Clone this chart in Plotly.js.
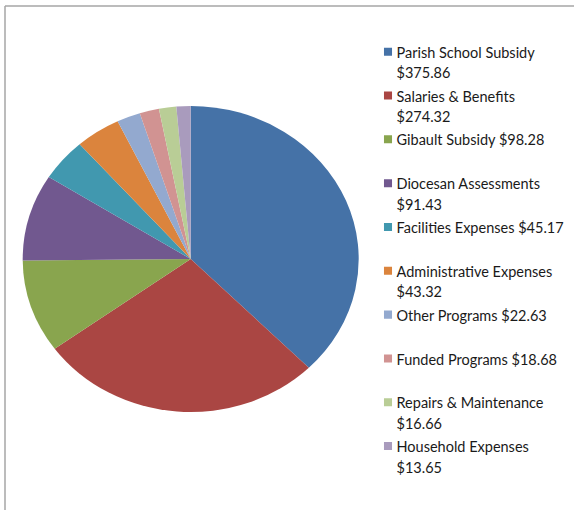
<!DOCTYPE html>
<html>
<head>
<meta charset="utf-8">
<script src="https://cdn.plot.ly/plotly-3.0.1.min.js"></script>
<style>
  html, body { margin: 0; padding: 0; background: #fff; }
  #chart { width: 574px; height: 510px; }
  /* Source chart is drawn as a slightly wide ellipse */
  #chart .pielayer { transform-box: view-box; transform-origin: 190.7px 259px; transform: scaleX(1.098); }
  #chart .legendpie { transform-box: fill-box; transform-origin: center; transform: translate(31.5px, 0) scale(0.67); }
</style>
</head>
<body>
<div id="chart"></div>
<script>
// ---- data ----
const categories = [
  'Parish School Subsidy', 'Salaries & Benefits', 'Gibault Subsidy',
  'Diocesan Assessments', 'Facilities Expenses', 'Administrative Expenses',
  'Other Programs', 'Funded Programs', 'Repairs & Maintenance', 'Household Expenses'
];
const amounts = [375.86, 274.32, 98.28, 91.43, 45.17, 43.32, 22.63, 18.68, 16.66, 13.65];
const wrapped = [true, true, false, true, false, true, false, false, true, true];
const colors = ['#4572A7', '#AA4643', '#89A54E', '#71588F', '#4198AF',
                '#DB843D', '#93A9CF', '#D19392', '#B9CD96', '#A99BBD'];

const labels = categories.map((c, i) => {
  const v = '$' + amounts[i].toFixed(2);
  const body = wrapped[i] ? c + '<br>' + v : c + ' ' + v + '<br> ';
  return '<span style="font-size:14.5px">' + body.replace('<br>', '</span><br><span style="font-size:14.5px">') + '</span>';
});

const trace = {
  type: 'pie',
  labels: labels,
  values: amounts,
  sort: false,
  direction: 'clockwise',
  rotation: 0,
  textinfo: 'none',
  hoverinfo: 'none',
  marker: { colors: colors, line: { width: 0 } },
  domain: { x: [37.7 / 574, 343.7 / 574], y: [98 / 510, 404 / 510] }
};

const layout = {
  width: 574, height: 510,
  margin: { l: 0, r: 0, t: 0, b: 0 },
  paper_bgcolor: '#fff',
  showlegend: true,
  legend: {
    xref: 'paper', yref: 'paper',
    x: 356.5 / 574, xanchor: 'left',
    y: 1 - 35 / 510, yanchor: 'top',
    valign: 'top',
    font: { family: 'Lato, "Open Sans", sans-serif', size: 15.7, color: '#1a1a1a' },
    bgcolor: 'rgba(0,0,0,0)', borderwidth: 0
  },
  shapes: [
    { type: 'line', xref: 'paper', yref: 'paper', x0: 5 / 574, x1: 5 / 574, y0: 0, y1: 1 - 6 / 510,
      line: { color: '#A6A6A6', width: 1.5 } },
    { type: 'line', xref: 'paper', yref: 'paper', x0: 5 / 574, x1: 1, y0: 1 - 6 / 510, y1: 1 - 6 / 510,
      line: { color: '#A6A6A6', width: 1.5 } }
  ]
};

Plotly.newPlot('chart', [trace], layout, { displayModeBar: false, staticPlot: true });
</script>
</body>
</html>
